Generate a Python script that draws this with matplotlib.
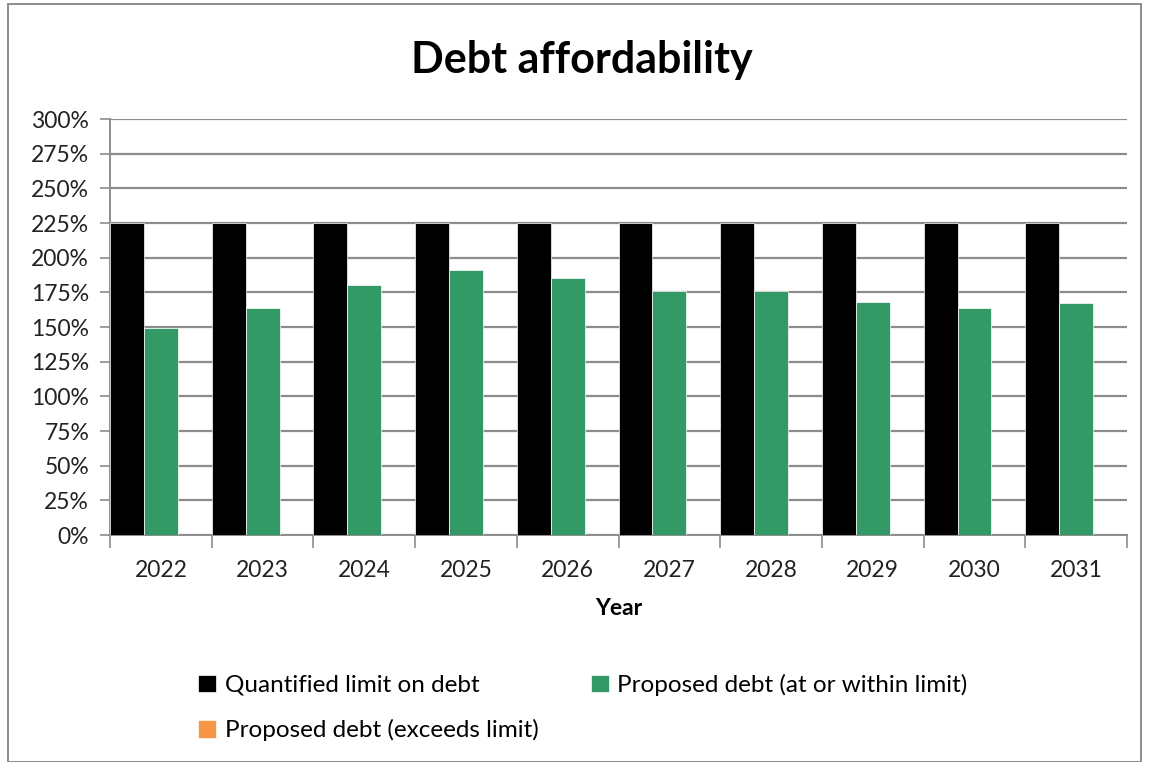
import numpy as np
import matplotlib.pyplot as plt
from matplotlib.patches import Rectangle

years = ['2022', '2023', '2024', '2025', '2026', '2027', '2028', '2029', '2030', '2031']
limit = [225, 225, 225, 225, 225, 225, 225, 225, 225, 225]
within = [149, 164, 180, 191, 185, 176, 176, 168, 164, 167]
exceeds = [0, 0, 0, 0, 0, 0, 0, 0, 0, 0]
yticks = [0, 25, 50, 75, 100, 125, 150, 175, 200, 225, 250, 275, 300]

plt.rcParams['font.family'] = ['Lato', 'DejaVu Sans']

fig = plt.figure(figsize=(11.49, 7.62), dpi=100)
ax = fig.add_axes([110 / 1149, 1 - 535 / 762, 1017 / 1149, 416 / 762])

x = np.arange(len(years))
w = 1 / 3
b1 = ax.bar(x - w, limit, w, color='black', edgecolor='white', linewidth=0.5,
            label='Quantified limit on debt', zorder=3)
b2 = ax.bar(x, within, w, color='#339966', edgecolor='white', linewidth=0.5,
            label='Proposed debt (at or within limit)', zorder=3)
b3 = ax.bar(x + w, exceeds, w, color='#F79646', edgecolor='white', linewidth=0.5,
            label='Proposed debt (exceeds limit)', zorder=3)

ax.set_xlim(-0.5, len(years) - 0.5)
ax.set_ylim(0, 300)
ax.set_yticks(yticks)
ax.set_yticklabels([f'{t}%' for t in yticks], fontsize=16.5, color='#222222')
ax.yaxis.grid(True, color='#8c8c8c', linewidth=1.6, zorder=0)

ax.set_xticks(x)
ax.set_xticklabels(years, fontsize=16.5, color='#222222')
ax.set_xticks(np.arange(len(years) + 1) - 0.5, minor=True)
ax.tick_params(axis='x', which='major', length=0, pad=18)
ax.tick_params(axis='x', which='minor', length=9, color='#8c8c8c', width=1.2)
ax.tick_params(axis='y', length=7, color='#8c8c8c', width=1.2, pad=8)

for s in ['top', 'right']:
    ax.spines[s].set_visible(False)
for s in ['left', 'bottom']:
    ax.spines[s].set_color('#8c8c8c')
    ax.spines[s].set_linewidth(1.4)

ax.set_xlabel('Year', fontsize=16.5, fontweight='bold', labelpad=12)

fig.text(582 / 1149, 1 - 60 / 762, 'Debt affordability', fontsize=31,
         fontweight='bold', ha='center', va='center')

# Excel fills the legend row by row
leg = fig.legend([b1, b3, b2], [b1.get_label(), b3.get_label(), b2.get_label()],
                 loc='upper left', ncol=2, frameon=False,
                 bbox_to_anchor=(176 / 1149, 1 - 652 / 762), fontsize=17.5,
                 handlelength=0.75, handleheight=0.75, handletextpad=0.35,
                 columnspacing=2.15, labelspacing=0.95)

fig.patches.append(Rectangle((8 / 1149, 0), 1 - 16 / 1149, 1 - 4 / 762,
                             transform=fig.transFigure, fill=False,
                             edgecolor='#8c8c8c', linewidth=1.4))

fig.savefig('out.png', dpi=100)
